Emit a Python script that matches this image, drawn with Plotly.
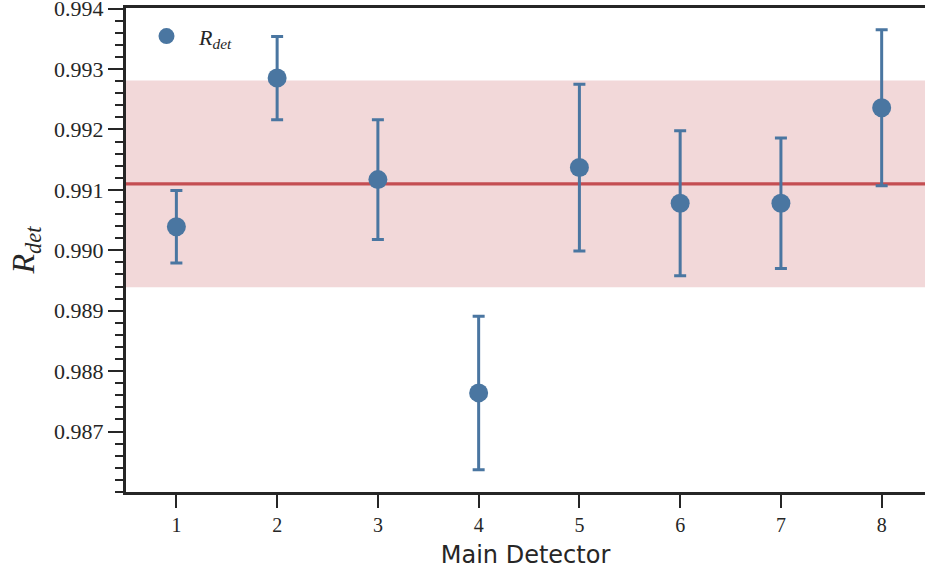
import plotly.graph_objects as go

# Detector ratio measurements
detectors = [1, 2, 3, 4, 5, 6, 7, 8]
r_det = [0.99039, 0.99285, 0.99117, 0.98764, 0.99137, 0.99078, 0.99078, 0.99236]
r_err = [0.00060, 0.00069, 0.00099, 0.00127, 0.00138, 0.00120, 0.00108, 0.00129]

# Combined value and its uncertainty band
r_mean = 0.99110
r_band = 0.00171

y_ticks = [0.987, 0.988, 0.989, 0.990, 0.991, 0.992, 0.993, 0.994]

blue = "#4a76a1"
red = "#c44e52"
axis_col = "#262626"
serif = "Liberation Serif, DejaVu Serif, serif"

fig = go.Figure()

fig.add_shape(type="rect", xref="paper", x0=0, x1=1, yref="y",
              y0=r_mean - r_band, y1=r_mean + r_band,
              fillcolor="rgba(196,78,82,0.22)", line_width=0, layer="below")
fig.add_shape(type="line", xref="paper", x0=0, x1=1, yref="y",
              y0=r_mean, y1=r_mean, line=dict(color=red, width=3.2), layer="below")

fig.add_trace(go.Scatter(
    x=detectors, y=r_det, mode="markers",
    name="<i>R</i><sub><i>det</i></sub>",
    marker=dict(color=blue, size=19, line_width=0),
    error_y=dict(type="data", array=r_err, visible=True,
                 color=blue, thickness=3, width=6),
))

fig.update_layout(
    width=925, height=577,
    margin=dict(l=126, r=0, t=8, b=85),
    plot_bgcolor="white", paper_bgcolor="white",
    showlegend=True,
    legend=dict(x=0.01, y=0.985, xanchor="left", yanchor="top",
                bgcolor="rgba(0,0,0,0)",
                font=dict(family=serif, size=22, color=axis_col),
                itemsizing="trace", itemwidth=55),
    font=dict(family=serif, color=axis_col),
)

fig.update_xaxes(
    range=[0.5, 8.43], tickmode="array", tickvals=detectors,
    ticktext=[str(d) for d in detectors],
    showgrid=False, zeroline=False, automargin=False,
    showline=True, linewidth=3, linecolor=axis_col, mirror=True,
    ticks="outside", ticklen=13, tickwidth=2, tickcolor=axis_col,
    tickfont=dict(family=serif, size=20, color=axis_col),
    title=dict(text="Main Detector",
               font=dict(family="DejaVu Sans, sans-serif", size=24, color=axis_col),
               standoff=12),
)

fig.update_yaxes(
    range=[0.986, 0.99401], tickmode="array", tickvals=y_ticks,
    ticktext=[f"{v:.3f}" for v in y_ticks],
    ticklabeloverflow="allow", automargin=False,
    showgrid=False, zeroline=False,
    showline=True, linewidth=3, linecolor=axis_col, mirror=False,
    ticks="outside", ticklen=15, tickwidth=2, tickcolor=axis_col,
    tickfont=dict(family=serif, size=22, color=axis_col),
    minor=dict(dtick=0.0002, tick0=0.986, ticks="outside", ticklen=8,
               tickwidth=2, tickcolor=axis_col, showgrid=False),
    title=dict(text="<i>R</i><sub><i>det</i></sub>",
               font=dict(family=serif, size=32, color=axis_col),
               standoff=10),
)

fig.write_html("out.html")
